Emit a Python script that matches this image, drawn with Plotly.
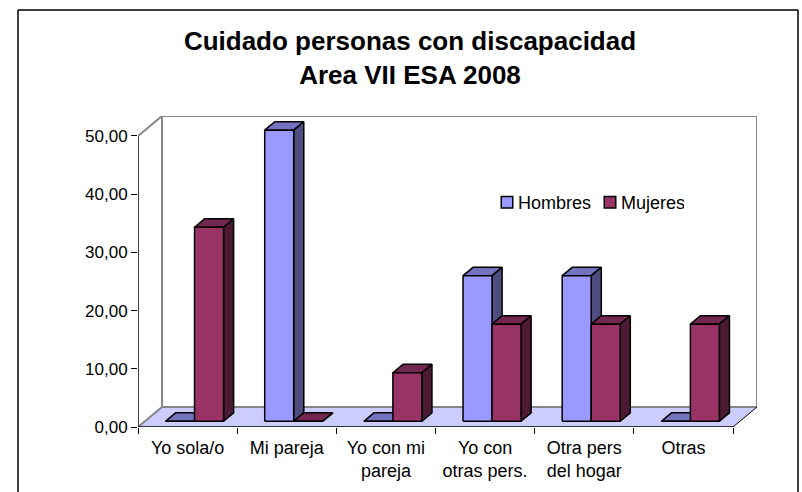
import plotly.graph_objects as go

categories = ["Yo sola/o", "Mi pareja", "Yo con mi<br>pareja", "Yo con<br>otras pers.", "Otra pers<br>del hogar", "Otras"]
hombres = [0, 50, 0, 25, 25, 0]
mujeres = [33.33, 0, 8.33, 16.67, 16.67, 16.67]
y_ticks = [0, 10, 20, 30, 40, 50]

# Oblique projection constants (axis units)
DX = 24 / 99.17
DY = 20 / 5.83
BAR_W = 29 / 99.17
D0, D1 = 0.29, 0.71
n = len(categories)


def proj(x, y, d):
    return x + DX * d, y + DY * d


def faces(values, offset):
    top_x, top_y, side_x, side_y, front_x, front_y = [], [], [], [], [], []
    for i, v in enumerate(values):
        x0 = i + 0.5 + offset
        x1 = x0 + BAR_W
        a = proj(x0, v, D0); b = proj(x1, v, D0); c = proj(x1, v, D1); e = proj(x0, v, D1)
        p = proj(x1, 0, D0); q = proj(x1, 0, D1); r = proj(x0, 0, D0)
        top_x += [a[0], b[0], c[0], e[0], a[0], None]
        top_y += [a[1], b[1], c[1], e[1], a[1], None]
        side_x += [b[0], c[0], q[0], p[0], b[0], None]
        side_y += [b[1], c[1], q[1], p[1], b[1], None]
        front_x += [r[0], p[0], b[0], a[0], r[0], None]
        front_y += [r[1], p[1], b[1], a[1], r[1], None]
    return (top_x, top_y), (side_x, side_y), (front_x, front_y)


fig = go.Figure()


def poly(xs, ys, fill, line="#000000", width=1.5):
    fig.add_trace(go.Scatter(x=xs, y=ys, mode="lines", fill="toself", fillcolor=fill,
                             line=dict(color=line, width=width), showlegend=False,
                             hoverinfo="skip", cliponaxis=False))


def seg(xs, ys, color, width):
    fig.add_trace(go.Scatter(x=xs, y=ys, mode="lines", line=dict(color=color, width=width),
                             showlegend=False, hoverinfo="skip", cliponaxis=False))


# Floor
fig.add_trace(go.Scatter(x=[0, n, n + DX, DX, 0], y=[0, 0, DY, DY, 0], mode="lines", fill="toself",
                         fillcolor="#CCCCFF", line=dict(width=0), showlegend=False, hoverinfo="skip"))
# Walls
GREY = "#868686"
seg([0, DX, DX], [50, 50 + DY, DY], GREY, 2)
seg([0, DX, n + DX, n + DX], [0, DY, DY, 50 + DY], GREY, 2)
seg([DX, n + DX], [50 + DY, 50 + DY], GREY, 2)
seg([n, n + DX], [0, DY], "#000000", 1)

# Bars
for values, offset, cols in [(hombres, -BAR_W, ("#7373BF", "#4D4D80", "#9999FF")),
                             (mujeres, 0, ("#732650", "#4D1A33", "#993366"))]:
    top, side, front = faces(values, offset)
    poly(*top, cols[0])
    poly(*side, cols[1])
    poly(*front, cols[2])

# Axes
seg([0, 0], [0, 50], "#000000", 1.5)
seg([0, n], [0, 0], "#000000", 1.5)

# Legend
for name, col in [("Hombres", "#9999FF"), ("Mujeres", "#993366")]:
    fig.add_trace(go.Scatter(x=[None], y=[None], mode="markers", name=name,
                             marker=dict(symbol="square", size=11.5, color=col,
                                         line=dict(color="#000000", width=1.5))))

L, R, T, B = 138, 757, 116, 427
W, H = 802, 492
px = lambda v: (v - L) / (R - L)
py = lambda v: (B - v) / (B - T)
border = dict(type="line", xref="paper", yref="paper", line=dict(color="#000000", width=1.5))
fig.update_layout(
    width=W, height=H, autosize=False,
    margin=dict(l=L, r=W - R, t=T, b=H - B, pad=0),
    paper_bgcolor="#FFFFFF", plot_bgcolor="#FFFFFF",
    separators=",.",
    font=dict(family="Liberation Sans", size=18, color="#000000"),
    title=dict(text="<b>Cuidado personas con discapacidad<br>Area VII ESA 2008</b>",
               font=dict(family="Liberation Sans", size=26, color="#000000"),
               x=410 / W, xanchor="center", y=1 - 50 / H, yanchor="top"),
    xaxis=dict(range=[0, n + DX], tickmode="array", tickvals=[i + 0.5 for i in range(n)],
               ticktext=categories, ticks="", showline=False, showgrid=False, zeroline=False,
               ticklabelstandoff=8,
               minor=dict(tickmode="array", tickvals=list(range(n + 1)), ticks="outside",
                          ticklen=6, tickwidth=1, tickcolor="#000000", showgrid=False)),
    yaxis=dict(range=[0, 50 + DY], tickmode="array", tickvals=y_ticks, tickformat=".2f",
               ticks="outside", ticklen=6, tickwidth=1, tickcolor="#000000",
               showline=False, showgrid=False, zeroline=False, tickfont=dict(size=17)),
    legend=dict(orientation="h", x=px(478), y=py(202.5), xanchor="left", yanchor="middle",
                bgcolor="rgba(0,0,0,0)", font=dict(size=18), entrywidth=58,
                entrywidthmode="pixels"),
    shapes=[
        dict(border, x0=px(18), x1=px(18), y0=py(10), y1=py(500)),
        dict(border, x0=px(18), x1=px(798), y0=py(10), y1=py(10)),
        dict(border, x0=px(798), x1=px(798), y0=py(10), y1=py(500)),
    ],
)
fig.write_html(
    "out.html",
    config={"displayModeBar": False},
    post_script="document.body.style.margin='0';"
                "document.querySelectorAll('.legendsymbols').forEach(e=>e.setAttribute('transform','translate(9,0)'));",
)
